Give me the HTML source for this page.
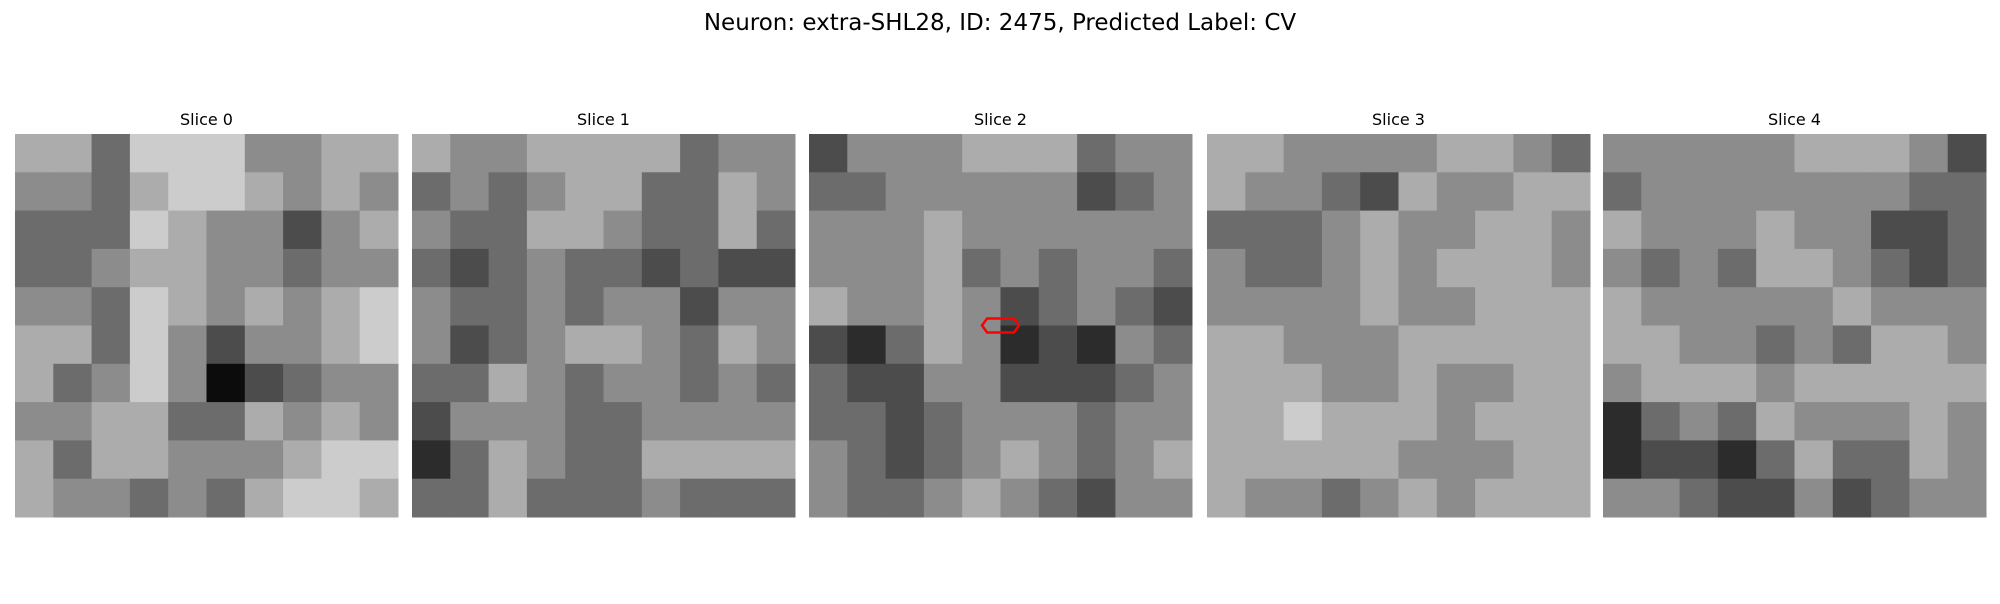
<!DOCTYPE html>
<html><head><meta charset="utf-8">
<style>
html,body{margin:0;padding:0;background:#fff;}
body{width:2000px;height:600px;overflow:hidden;font-family:"DejaVu Sans","Liberation Sans",sans-serif;}
</style></head>
<body>
<svg id="fig" width="2000" height="600" viewBox="0 0 2000 600" xmlns="http://www.w3.org/2000/svg">
<rect x="0" y="0" width="2000" height="600" fill="#fff"/>
<text x="1000" y="30" text-anchor="middle" font-size="23" fill="#000">Neuron: extra-SHL28, ID: 2475, Predicted Label: CV</text>
</svg>
<script>
// coarse brightness estimates (0=black, 9=white), 10x10 blocks per slice
const sliceTitles = ["Slice 0","Slice 1","Slice 2","Slice 3","Slice 4"];
const slice0 = [
[6,6,4,7,7,7,5,5,6,6],[5,5,4,6,7,7,6,5,6,5],[4,4,4,7,6,5,5,3,5,6],[4,4,5,6,6,5,5,4,5,5],[5,5,4,7,6,5,6,5,6,7],
[6,6,4,7,5,3,5,5,6,7],[6,4,5,7,5,1,3,4,5,5],[5,5,6,6,4,4,6,5,6,5],[6,4,6,6,5,5,5,6,7,7],[6,5,5,4,5,4,6,7,7,6]];
const slice1 = [
[6,5,5,6,6,6,6,4,5,5],[4,5,4,5,6,6,4,4,6,5],[5,4,4,6,6,5,4,4,6,4],[4,3,4,5,4,4,3,4,3,3],[5,4,4,5,4,5,5,3,5,5],
[5,3,4,5,6,6,5,4,6,5],[4,4,6,5,4,5,5,4,5,4],[3,5,5,5,4,4,5,5,5,5],[2,4,6,5,4,4,6,6,6,6],[4,4,6,4,4,4,5,4,4,4]];
const slice2 = [
[3,5,5,5,6,6,6,4,5,5],[4,4,5,5,5,5,5,3,4,5],[5,5,5,6,5,5,5,5,5,5],[5,5,5,6,4,5,4,5,5,4],[6,5,5,6,5,3,4,5,4,3],
[3,2,4,6,5,2,3,2,5,4],[4,3,3,5,5,3,3,3,4,5],[4,4,3,4,5,5,5,4,5,5],[5,4,3,4,5,6,5,4,5,6],[5,4,4,5,6,5,4,3,5,5]];
const slice3 = [
[6,6,5,5,5,5,6,6,5,4],[6,5,5,4,3,6,5,5,6,6],[4,4,4,5,6,5,5,6,6,5],[5,4,4,5,6,5,6,6,6,5],[5,5,5,5,6,5,5,6,6,6],
[6,6,5,5,5,6,6,6,6,6],[6,6,6,5,5,6,5,5,6,6],[6,6,7,6,6,6,5,6,6,6],[6,6,6,6,6,5,5,5,6,6],[6,5,5,4,5,6,5,6,6,6]];
const slice4 = [
[5,5,5,5,5,6,6,6,5,3],[4,5,5,5,5,5,5,5,4,4],[6,5,5,5,6,5,5,3,3,4],[5,4,5,4,6,6,5,4,3,4],[6,5,5,5,5,5,6,5,5,5],
[6,6,5,5,4,5,4,6,6,5],[5,6,6,6,5,6,6,6,6,6],[2,4,5,4,6,5,5,5,6,5],[2,3,3,2,4,6,4,4,6,5],[5,5,4,3,3,5,3,4,5,5]];
const slices = [slice0,slice1,slice2,slice3,slice4];
// contour marker on slice 2 (cell units: center x, y, half-width, half-height)
const markerSlice = 2;
const marker = [15, 15, 1.45, 0.55];

const NS="http://www.w3.org/2000/svg";
const svg=document.getElementById('fig');
const panelLeft=[15,412,809,1207,1603], panelTop=134, panelSize=383, nCells=10;
const cs=panelSize/nCells, cell30=panelSize/30;
function gray(v){let g=Math.round(140+(v-5)*32);g=Math.max(0,Math.min(255,g));return `rgb(${g},${g},${g})`;}
slices.forEach((grid,si)=>{
  const g=document.createElementNS(NS,'g');
  
  
  svg.appendChild(g);
  grid.forEach((row,r)=>row.forEach((v,c)=>{
    const rc=document.createElementNS(NS,'rect');
    
    
    rc.setAttribute('x',panelLeft[si]+c*cs);rc.setAttribute('y',panelTop+r*cs);
    rc.setAttribute('width',cs+0.5);rc.setAttribute('height',cs+0.5);
    rc.setAttribute('fill',gray(v));
    g.appendChild(rc);
  }));
  const t=document.createElementNS(NS,'text');
  
  
  t.setAttribute('x',panelLeft[si]+panelSize/2);t.setAttribute('y',125);
  t.setAttribute('text-anchor','middle');t.setAttribute('font-size','16');
  t.textContent=sliceTitles[si];
  svg.appendChild(t);
});
(function(){
  const [cx,cy,hw,hh]=marker;
  const X=v=>panelLeft[markerSlice]+v*cell30, Y=v=>panelTop+v*cell30;
  const k=0.4;
  const pts=[[cx-hw,cy],[cx-hw+k,cy-hh],[cx+hw-k,cy-hh],[cx+hw,cy],[cx+hw-k,cy+hh],[cx-hw+k,cy+hh]];
  const p=document.createElementNS(NS,'polygon');
  
  
  p.setAttribute('points',pts.map(q=>X(q[0])+','+Y(q[1])).join(' '));
  p.setAttribute('fill','none');p.setAttribute('stroke','#ff0000');p.setAttribute('stroke-width','2.5');
  svg.appendChild(p);
})();
</script>
</body></html>
